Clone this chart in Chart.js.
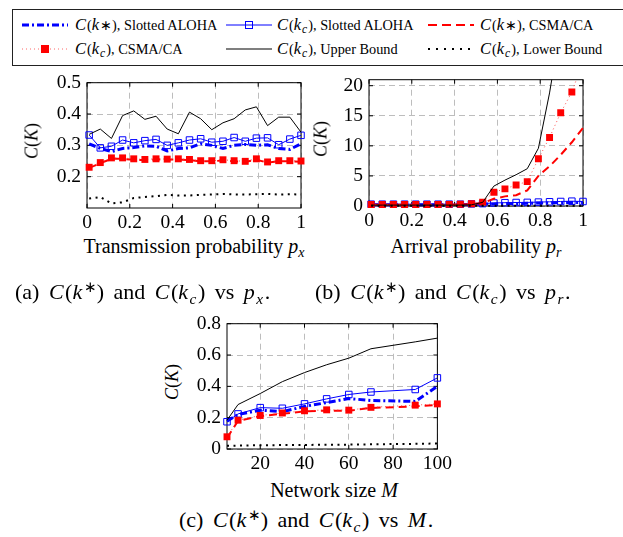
<!DOCTYPE html>
<html lang="en">
<head>
<meta charset="UTF-8">
<title>C(K) vs p_x, p_r and M</title>
<script src="https://cdn.jsdelivr.net/npm/chart.js"></script>
<style>
  body { margin: 0; width: 623px; height: 537px; overflow: hidden; position: relative; background: #fff;
         font-family: "Liberation Serif", serif; color: #000; }
  .abs { position: absolute; white-space: nowrap; }
  canvas { position: absolute; }
  .legend { position: absolute; left: 12px; top: 9px; width: 625px; height: 57px; border: 1px solid #222; box-sizing: border-box; }
  .key { position: absolute; }
  .lbl { position: absolute; font-size: 14.3px; line-height: 16px; white-space: nowrap; }
  .lbl .m { font-size: 16.5px; letter-spacing: 1px; }
  .m { font-style: italic; }
  sub { font-size: 0.7em; vertical-align: -0.3em; line-height: 0; }
  sup { font-size: 0.7em; vertical-align: 0.45em; line-height: 0; }
  .axt { font-size: 20px; line-height: 22px; text-align: center; }
  .cap { font-size: 22px; line-height: 24px; word-spacing: 4px; }
  .cap .m { letter-spacing: 1.5px; }
  .yt { font-size: 18px; transform: translate(-50%, -50%) rotate(-90deg); }
</style>
</head>
<body>
  <div class="legend"></div>
  <!-- legend keys -->
  <svg class="key" style="left:22px;top:19px" width="46" height="12"><line x1="0" y1="6" x2="46" y2="6" stroke="#00f" stroke-width="3" stroke-dasharray="7 3 2 3"/></svg>
  <svg class="key" style="left:226px;top:19px" width="46" height="12"><line x1="0" y1="6" x2="46" y2="6" stroke="#00f" stroke-width="1"/><rect x="19.5" y="2.5" width="7" height="7" fill="none" stroke="#00f"/></svg>
  <svg class="key" style="left:428px;top:19px" width="46" height="12"><line x1="0" y1="6" x2="46" y2="6" stroke="#f00" stroke-width="2" stroke-dasharray="9 5"/></svg>
  <svg class="key" style="left:22px;top:43px" width="46" height="12"><line x1="0" y1="6" x2="46" y2="6" stroke="#f66" stroke-width="1" stroke-dasharray="1 3"/><rect x="19" y="2" width="8" height="8" fill="#f00"/></svg>
  <svg class="key" style="left:226px;top:43px" width="46" height="12"><line x1="0" y1="6" x2="46" y2="6" stroke="#000" stroke-width="1.1"/></svg>
  <svg class="key" style="left:428px;top:43px" width="46" height="12"><line x1="0" y1="6" x2="46" y2="6" stroke="#000" stroke-width="2" stroke-dasharray="2 6"/></svg>
  <div class="lbl" style="left:75px;top:17px"><span class="m">C</span>(<span class="m">k</span>∗), Slotted ALOHA</div>
  <div class="lbl" style="left:277px;top:17px"><span class="m">C</span>(<span class="m">k<sub>c</sub></span>), Slotted ALOHA</div>
  <div class="lbl" style="left:480px;top:17px"><span class="m">C</span>(<span class="m">k</span>∗), CSMA/CA</div>
  <div class="lbl" style="left:75px;top:41px"><span class="m">C</span>(<span class="m">k<sub>c</sub></span>), CSMA/CA</div>
  <div class="lbl" style="left:277px;top:41px"><span class="m">C</span>(<span class="m">k<sub>c</sub></span>), Upper Bound</div>
  <div class="lbl" style="left:480px;top:41px"><span class="m">C</span>(<span class="m">k<sub>c</sub></span>), Lower Bound</div>

  <canvas id="chartA" width="278" height="169" style="left:37px;top:65px"></canvas>
  <canvas id="chartB" width="268" height="170" style="left:329px;top:62px"></canvas>
  <canvas id="chartC" width="268" height="169" style="left:187px;top:306px"></canvas>

  <div class="abs yt" style="left:32px;top:141px"><span class="m">C</span>(<span class="m">K</span>)</div>
  <div class="abs yt" style="left:321px;top:139px"><span class="m">C</span>(<span class="m">K</span>)</div>
  <div class="abs yt" style="left:172px;top:382px"><span class="m">C</span>(<span class="m">K</span>)</div>

  <div class="abs axt" style="left:77px;top:235px;width:234px">Transmission probability <span class="m">p<sub>x</sub></span></div>
  <div class="abs axt" style="left:359px;top:235px;width:234px">Arrival probability <span class="m">p<sub>r</sub></span></div>
  <div class="abs axt" style="left:217px;top:479px;width:234px">Network size <span class="m">M</span></div>

  <div class="abs cap" style="left:15px;top:280px">(a) <span class="m">C</span>(<span class="m">k</span><sup>∗</sup>) and <span class="m">C</span>(<span class="m">k<sub>c</sub></span>) vs <span class="m">p<sub>x</sub></span>.</div>
  <div class="abs cap" style="left:315px;top:280px">(b) <span class="m">C</span>(<span class="m">k</span><sup>∗</sup>) and <span class="m">C</span>(<span class="m">k<sub>c</sub></span>) vs <span class="m">p<sub>r</sub></span>.</div>
  <div class="abs cap" style="left:179px;top:508px">(c) <span class="m">C</span>(<span class="m">k</span><sup>∗</sup>) and <span class="m">C</span>(<span class="m">k<sub>c</sub></span>) vs <span class="m">M</span>.</div>

<script>
// x positions shared by (a) and (b)
const xProb = [0.01, 0.0621, 0.1142, 0.1663, 0.2184, 0.2705, 0.3226, 0.3747, 0.4268, 0.4789,
               0.5311, 0.5832, 0.6353, 0.6874, 0.7395, 0.7916, 0.8437, 0.8958, 0.9479, 1.0];
// x positions for (c)
const xSize = [5, 10, 20, 30, 40, 50, 60, 70, 90, 100];

// (a) vs transmission probability
const aStarAloha = [0.305, 0.29, 0.28, 0.29, 0.293, 0.298, 0.297, 0.282, 0.29, 0.292, 0.305, 0.3, 0.29, 0.3, 0.303, 0.3, 0.302, 0.29, 0.287, 0.305];
const aKcAloha   = [0.333, 0.292, 0.297, 0.317, 0.308, 0.315, 0.319, 0.300, 0.308, 0.317, 0.321, 0.310, 0.313, 0.325, 0.313, 0.323, 0.324, 0.302, 0.320, 0.332];
const aStarCsma  = [0.228, 0.243, 0.257, 0.257, 0.254, 0.253, 0.255, 0.254, 0.255, 0.253, 0.249, 0.249, 0.252, 0.249, 0.247, 0.254, 0.245, 0.249, 0.249, 0.248];
const aKcCsma    = [0.23, 0.245, 0.26, 0.26, 0.257, 0.255, 0.257, 0.256, 0.257, 0.255, 0.251, 0.251, 0.254, 0.251, 0.249, 0.257, 0.247, 0.251, 0.251, 0.25];
const aUpper     = [0.335, 0.352, 0.322, 0.395, 0.41, 0.383, 0.393, 0.352, 0.337, 0.406, 0.385, 0.35, 0.372, 0.385, 0.413, 0.423, 0.363, 0.39, 0.39, 0.342];
const aLower     = [0.13, 0.135, 0.115, 0.118, 0.132, 0.135, 0.138, 0.142, 0.14, 0.14, 0.142, 0.143, 0.145, 0.143, 0.143, 0.144, 0.145, 0.143, 0.144, 0.143];

// (b) vs arrival probability
const bStarAloha = [0.2, 0.2, 0.2, 0.2, 0.2, 0.2, 0.2, 0.2, 0.2, 0.25, 0.3, 0.35, 0.4, 0.42, 0.45, 0.5, 0.52, 0.55, 0.6, 0.6];
const bKcAloha   = [0.3, 0.3, 0.3, 0.3, 0.3, 0.3, 0.3, 0.3, 0.3, 0.35, 0.4, 0.5, 0.55, 0.58, 0.6, 0.65, 0.7, 0.75, 0.8, 0.75];
const bStarCsma  = [0.2, 0.2, 0.2, 0.2, 0.2, 0.2, 0.2, 0.2, 0.25, 0.3, 0.5, 1.2, 1.6, 1.8, 2.6, 5.0, 6.6, 8.5, 10.6, 13.0];
const bKcCsma    = [0.25, 0.25, 0.25, 0.25, 0.25, 0.25, 0.26, 0.27, 0.28, 0.38, 0.65, 2.3, 2.85, 3.5, 4.05, 7.85, 11.4, 15.5, 18.95, 24];
const bUpper     = [0.15, 0.15, 0.15, 0.15, 0.15, 0.15, 0.15, 0.15, 0.15, 0.2, 0.6, 3.3, 4.3, 5.2, 6.2, 9.6, 18.8, 30, 40, 50];
const bLower     = [0.05, 0.05, 0.05, 0.05, 0.05, 0.05, 0.05, 0.05, 0.05, 0.05, 0.05, 0.05, 0.05, 0.05, 0.05, 0.05, 0.05, 0.05, 0.05, 0.05];

// (c) vs network size
const cStarAloha = [0.178, 0.22, 0.248, 0.238, 0.272, 0.296, 0.322, 0.31, 0.304, 0.4];
const cKcAloha   = [0.174, 0.224, 0.264, 0.26, 0.288, 0.32, 0.348, 0.364, 0.38, 0.454];
const cStarCsma  = [0.07, 0.18, 0.21, 0.225, 0.24, 0.245, 0.245, 0.262, 0.272, 0.282];
const cKcCsma    = [0.078, 0.184, 0.214, 0.23, 0.244, 0.25, 0.248, 0.266, 0.28, 0.288];
const cUpper     = [0.184, 0.284, 0.354, 0.43, 0.488, 0.538, 0.58, 0.64, 0.684, 0.708];
const cLower     = [0.02, 0.022, 0.024, 0.025, 0.026, 0.027, 0.028, 0.03, 0.033, 0.035];

// tick labels
const xTicksProb = [0, 0.2, 0.4, 0.6, 0.8, 1];
const yTicksA = [0.2, 0.3, 0.4, 0.5];
const yTicksB = [0, 5, 10, 15, 20];
const xTicksC = [20, 40, 60, 80, 100];
const yTicksC = [0, 0.2, 0.4, 0.6, 0.8];

// line styles, same order as the legend
const styles = [
  { color: '#0000ff', width: 3, dash: [7, 3, 2, 3], radius: 0 },
  { color: '#0000ff', width: 1, dash: [], radius: 4.6, fill: 'rgba(0,0,0,0)', pbw: 1 },
  { color: '#ff0000', width: 2, dash: [8, 5], radius: 0 },
  { color: 'rgba(255,60,60,0.9)', width: 1, dash: [1, 3], radius: 4.9, fill: '#ff0000', pcol: '#ff0000', pbw: 0 },
  { color: '#000000', width: 1, dash: [], radius: 0 },
  { color: '#000000', width: 2, dash: [2, 4.5], radius: 0 }
];

// box around the plot area plus small inward ticks (pgfplots look)
const framePlugin = {
  id: 'frame',
  beforeDatasetsDraw(chart) {
    const { ctx, chartArea: a, scales: { x, y } } = chart;
    ctx.save();
    ctx.strokeStyle = '#000';
    ctx.lineWidth = 1;
    ctx.setLineDash([]);
    ctx.strokeRect(a.left, a.top, a.right - a.left, a.bottom - a.top);
    ctx.beginPath();
    x.ticks.forEach(t => {
      const p = x.getPixelForValue(t.value);
      ctx.moveTo(p, a.bottom); ctx.lineTo(p, a.bottom - 4);
      ctx.moveTo(p, a.top); ctx.lineTo(p, a.top + 4);
    });
    y.ticks.forEach(t => {
      const p = y.getPixelForValue(t.value);
      ctx.moveTo(a.left, p); ctx.lineTo(a.left + 4, p);
      ctx.moveTo(a.right, p); ctx.lineTo(a.right - 4, p);
    });
    ctx.stroke();
    ctx.restore();
  }
};

function axis(min, max, ticks, isX, size) {
  return {
    type: 'linear',
    min: min,
    max: max,
    afterBuildTicks: s => { s.ticks = ticks.map(v => ({ value: v })); },
    afterFit: s => { if (isX) s.height = size; else s.width = size; },
    ticks: {
      font: { family: 'Liberation Serif', size: 19.5 },
      color: '#000',
      padding: isX ? 3 : 6,
      maxRotation: 0,
      autoSkip: false,
      callback: v => String(v)
    },
    grid: { color: '#bdbdbd', lineWidth: 1, drawTicks: false },
    border: { display: false, dash: [6, 4] }
  };
}

function makeChart(id, xs, series, xr, yr, xTicks, yTicks, yWidth, clip) {
  const datasets = series.map((ys, i) => {
    const s = styles[i];
    return {
      data: xs.map((x, j) => ({ x: x, y: ys[j] })),
      showLine: true,
      borderColor: s.color,
      borderWidth: s.width,
      borderDash: s.dash,
      tension: 0,
      pointStyle: 'rect',
      pointRadius: s.radius,
      pointBackgroundColor: s.fill || 'rgba(0,0,0,0)',
      pointBorderColor: s.pcol || s.color,
      pointBorderWidth: s.pbw || 0,
      clip: clip,
      order: 6 - i
    };
  });
  return new Chart(document.getElementById(id), {
    type: 'scatter',
    data: { datasets: datasets },
    options: {
      responsive: false,
      animation: false,
      layout: { padding: { top: 10, right: 14, left: 0, bottom: 0 } },
      plugins: { legend: { display: false }, tooltip: { enabled: false } },
      scales: {
        x: axis(xr[0], xr[1], xTicks, true, 26),
        y: axis(yr[0], yr[1], yTicks, false, yWidth)
      }
    },
    plugins: [framePlugin]
  });
}

makeChart('chartA', xProb, [aStarAloha, aKcAloha, aStarCsma, aKcCsma, aUpper, aLower],
  [0, 1], [0.1, 0.5], xTicksProb, yTicksA, 50, false);
makeChart('chartB', xProb, [bStarAloha, bKcAloha, bStarCsma, bKcCsma, bUpper, bLower],
  [0, 1], [0, 21], xTicksProb, yTicksB, 40, { left: 10, top: 0, right: 10, bottom: 10 });
makeChart('chartC', xSize, [cStarAloha, cKcAloha, cStarCsma, cKcCsma, cUpper, cLower],
  [5, 100], [0, 0.8], xTicksC, yTicksC, 40, false);
</script>
</body>
</html>
